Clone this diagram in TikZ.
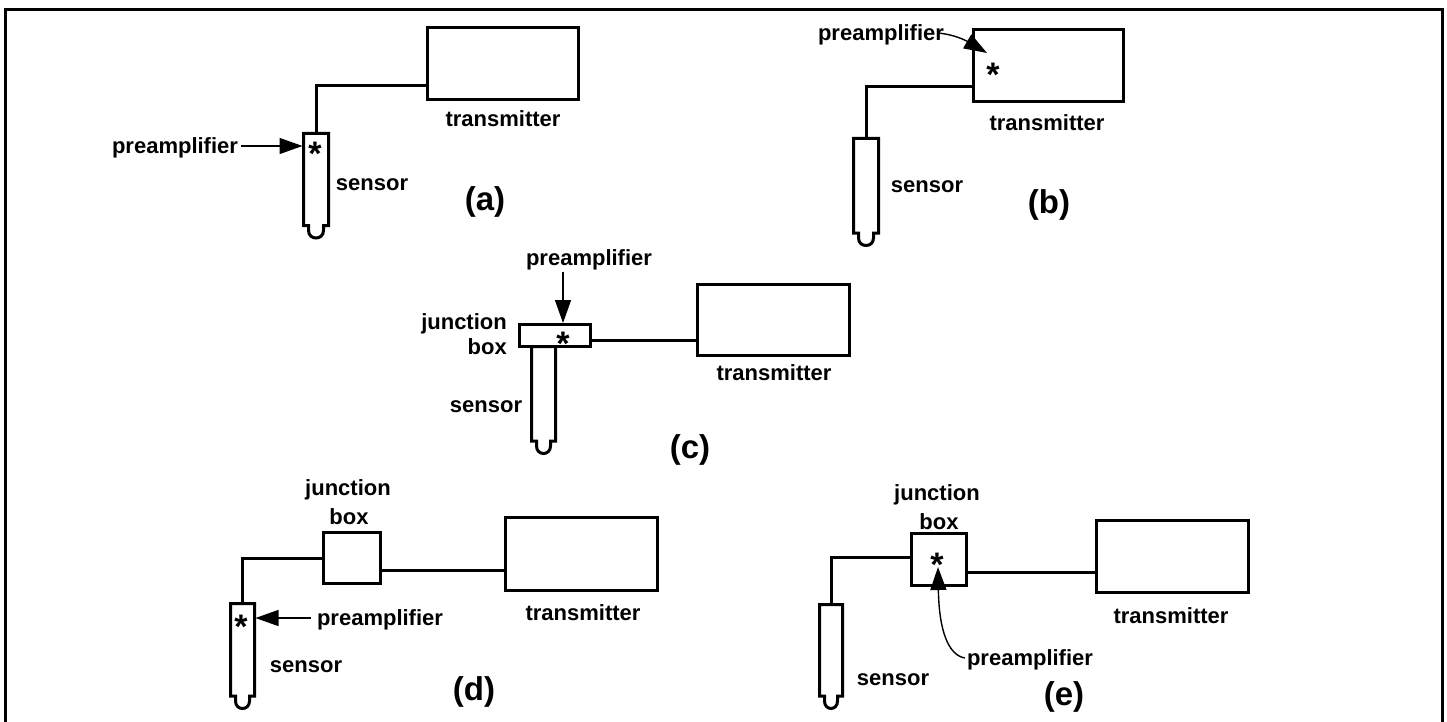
\documentclass[tikz,border=0pt]{standalone}
\usepackage{fontspec}
\setmainfont{Liberation Sans}
\usetikzlibrary{arrows.meta}
% #1 left x, #2 right x, #3 top y, #4 bulb bottom y, #5 name of top coordinate
\newcommand{\drawprobe}[5]{%
  \draw[tube] (#1,#4-12.5) -- (#1,#3) -- (#2,#3) -- (#2,#4-12.5) -- (#2-5,#4-12.5) -- (#2-5,#4-7.5)
    .. controls (#2-5,#4+2.5) and (#1+5,#4+2.5) .. (#1+5,#4-7.5) -- (#1+5,#4-12.5) -- cycle;
  \coordinate (#5) at ({(#1+#2)/2},#3);}
\begin{document}
\begin{tikzpicture}[x=1pt,y=-1pt,
  box/.style={draw, line width=3pt, inner sep=0pt},
  tube/.style={line width=3pt},
  wire/.style={line width=3pt},
  lbl/.style={font=\bfseries\fontsize{22}{26}\selectfont, inner sep=0pt, text height=16pt, text depth=1pt},
  tag/.style={font=\bfseries\fontsize{33}{38}\selectfont, inner sep=0pt},
  star/.style={font=\bfseries\fontsize{34}{38}\selectfont, inner sep=0pt, yshift=-7pt},
  pointer/.style={line width=1.4pt, -{Triangle[length=23pt,width=16pt]}}]
\useasboundingbox (0,0) rectangle (1447,722);
% frame
\draw[line width=3pt] (5.5,722) -- (5.5,9.5) -- (1442.5,9.5) -- (1442.5,722);

% ---------- (a)
\node[box, minimum width=151pt, minimum height=72pt] (ta) at (503,63.5) {};
\node[lbl] (tal) at (503,119) {transmitter};
\drawprobe{303.5}{328.5}{133.5}{238}{sa}
\draw[wire] ([yshift=-22.5pt]ta.west) -| (sa);
\node[star] (sas) at (315,147) {*};
\node[lbl] (pa) at (175,146) {preamplifier};
\coordinate (pat) at (302.5,146);
\draw[pointer] ([xshift=3pt]pa.east) -- (pat);
\node[lbl] (sal) at (372,183) {sensor};
\node[tag] (la) at (485,202) {(a)};

% ---------- (b)
\node[box, minimum width=150pt, minimum height=72pt] (tb) at (1048.5,65.5) {};
\node[lbl] (tbl) at (1047,123) {transmitter};
\drawprobe{853.5}{878.5}{138.5}{245.5}{sb}
\draw[wire] ([yshift=-21.5pt]tb.west) -| (sb);
\node[star] (tbs) at (993,68) {*};
\node[lbl] (pb) at (881,33) {preamplifier};
\coordinate (pbt) at (987,53);
\draw[pointer] ([xshift=-6pt]pb.east) .. controls (958,35) and (970,43) .. (pbt);
\node[lbl] (sbl) at (927,185) {sensor};
\node[tag] (lb) at (1049,205) {(b)};

% ---------- (c)
\node[lbl] (pc) at (589,258) {preamplifier};
\node[box, minimum width=71pt, minimum height=22pt] (jc) at (555,335.5) {};
\node[star] (jcs) at (563,337) {*};
\draw[pointer] ([yshift=-5pt]pc.south -| jcs) -- (jc.north -| jcs);
\node[lbl, anchor=east] (jcl1) at (507,322) {junction};
\node[lbl, anchor=east] (jcl2) at (507,347) {box};
\drawprobe{531.5}{555.5}{346.5}{453.5}{sc}
\node[lbl] (scl) at (486,405) {sensor};
\node[box, minimum width=152pt, minimum height=71pt] (tc) at (773.5,320) {};
\draw[wire] ([yshift=-4.5pt]jc.east) -- ([yshift=-4.5pt]jc.east -| tc.west);
\node[lbl] (tcl) at (774,373) {transmitter};
\node[tag] (lc) at (690,450) {(c)};

% ---------- (d)
\node[lbl] (jdl1) at (348,488) {junction};
\node[lbl] (jdl2) at (349,517) {box};
\node[box, minimum width=57pt, minimum height=51pt] (jd) at (352,558) {};
\drawprobe{230.5}{254.5}{603.5}{708.5}{sd}
\draw[wire] (jd.west) -| (sd);
\node[star] (sds) at (241,620) {*};
\node[lbl] (pd) at (380,618) {preamplifier};
\coordinate (pdt) at (255.5,618);
\draw[pointer] ([xshift=-6pt]pd.west) -- (pdt);
\node[lbl] (sdl) at (306,665) {sensor};
\node[box, minimum width=152pt, minimum height=73pt] (td) at (581.5,554) {};
\draw[wire] ([yshift=-12pt]jd.east) -- ([yshift=-12pt]jd.east -| td.west);
\node[lbl] (tdl) at (583,613) {transmitter};
\node[tag] (ld) at (474,692) {(d)};

% ---------- (e)
\node[lbl] (jel1) at (937,493) {junction};
\node[lbl] (jel2) at (939,522) {box};
\node[box, minimum width=55pt, minimum height=52pt] (je) at (939,559.5) {};
\node[star] (jes) at (937,558) {*};
\drawprobe{819.5}{842.5}{604.5}{708.5}{se}
\draw[wire] ([yshift=2.5pt]je.west) -| (se);
\node[lbl] (pe) at (1030,658) {preamplifier};
\coordinate (pet) at (938,567);
\draw[pointer] ([xshift=-2pt]pe.west) .. controls (948,655) and (939,630) .. (pet);
\node[lbl] (sel) at (893,678) {sensor};
\node[box, minimum width=152pt, minimum height=72pt] (te) at (1172.5,556.5) {};
\draw[wire] ([yshift=-12.5pt]je.east) -- ([yshift=-12.5pt]je.east -| te.west);
\node[lbl] (tel) at (1171,616) {transmitter};
\node[tag] (le) at (1064,697) {(e)};
\end{tikzpicture}
\end{document}
